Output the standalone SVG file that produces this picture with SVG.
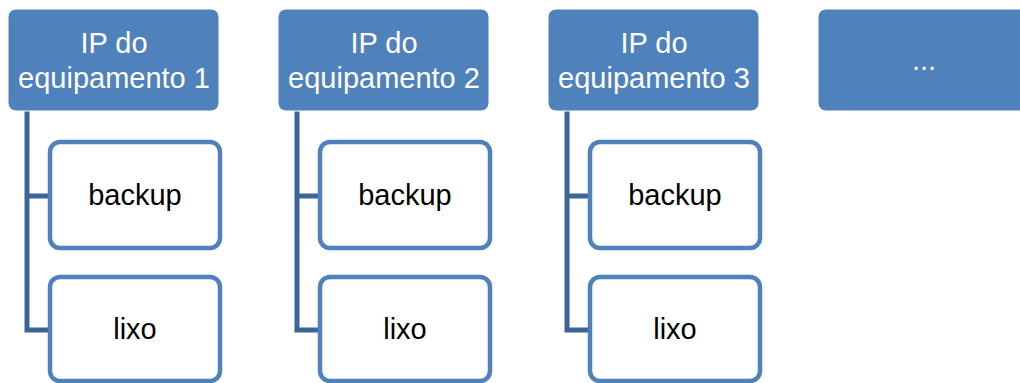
<svg xmlns="http://www.w3.org/2000/svg" width="1020" height="383" viewBox="0 0 1020 383">
<style>
.top{fill:#4F81BD;stroke:#ffffff;stroke-width:1}
.child{fill:#ffffff;stroke:#4F81BD;stroke-width:4.5}
.conn{fill:none;stroke:#3C6595;stroke-width:5;stroke-linejoin:miter}
.tw{font-family:"Liberation Sans",Arial,sans-serif;font-size:29px;fill:#ffffff;text-anchor:middle}
.tb{font-family:"Liberation Sans",Arial,sans-serif;font-size:29px;fill:#000000;text-anchor:middle}
</style>
<rect width="1020" height="383" fill="#ffffff"/>
<g id="connectors">
<path class="conn" d="M27 111 V330 H50 M27 196 H50"/>
<path class="conn" d="M297 111 V330 H320 M297 196 H320"/>
<path class="conn" d="M567 111 V330 H590 M567 196 H590"/>
</g>
<g id="node1">
<rect class="top" x="8" y="9" width="211" height="102" rx="8"/>
<text class="tw" x="114" y="53">IP do</text>
<text class="tw" x="114" y="88">equipamento 1</text>
</g>
<g id="node1-backup">
<rect class="child" x="50" y="142" width="170" height="106" rx="10"/>
<text class="tb" x="135" y="205">backup</text>
</g>
<g id="node1-lixo">
<rect class="child" x="50" y="277" width="170" height="104" rx="10"/>
<text class="tb" x="135" y="339">lixo</text>
</g>
<g id="node2">
<rect class="top" x="278" y="9" width="211" height="102" rx="8"/>
<text class="tw" x="384" y="53">IP do</text>
<text class="tw" x="384" y="88">equipamento 2</text>
</g>
<g id="node2-backup">
<rect class="child" x="320" y="142" width="170" height="106" rx="10"/>
<text class="tb" x="405" y="205">backup</text>
</g>
<g id="node2-lixo">
<rect class="child" x="320" y="277" width="170" height="104" rx="10"/>
<text class="tb" x="405" y="339">lixo</text>
</g>
<g id="node3">
<rect class="top" x="548" y="9" width="211" height="102" rx="8"/>
<text class="tw" x="654" y="53">IP do</text>
<text class="tw" x="654" y="88">equipamento 3</text>
</g>
<g id="node3-backup">
<rect class="child" x="590" y="142" width="170" height="106" rx="10"/>
<text class="tb" x="675" y="205">backup</text>
</g>
<g id="node3-lixo">
<rect class="child" x="590" y="277" width="170" height="104" rx="10"/>
<text class="tb" x="675" y="339">lixo</text>
</g>
<g id="node4">
<rect class="top" x="818" y="9" width="211" height="102" rx="8"/>
<text class="tw" x="924" y="70">...</text>
</g>
</svg>
